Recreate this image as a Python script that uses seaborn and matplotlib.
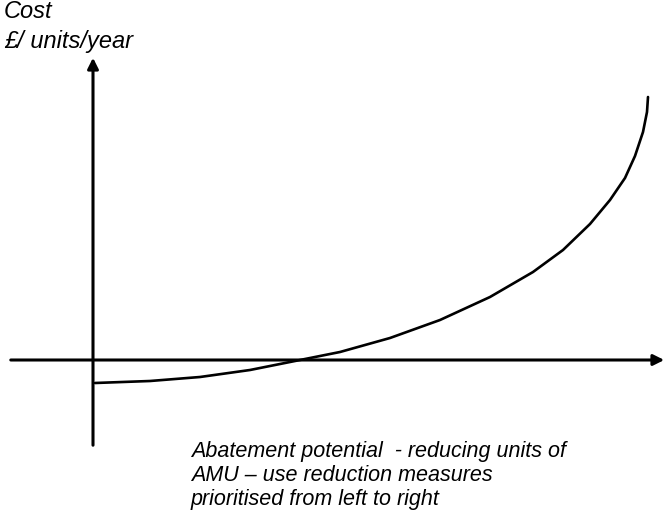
import matplotlib
matplotlib.use("Agg")
import matplotlib.pyplot as plt
import seaborn as sns
import pandas as pd

# Curva de coste marginal de abatimiento
potencial = [2, 57, 107, 157, 207, 247, 297, 347, 397, 440, 470, 497, 517, 532, 542, 550, 554, 555]
coste = [-23, -21, -17, -10, 0, 8, 22, 40, 63, 88, 110, 136, 160, 182, 204, 228, 248, 263]

# Extensión de los ejes dibujados
eje_x_min, eje_x_max = -85, 574
eje_y_min, eje_y_max = -88, 305

titulo_y = ["Cost", "£/ units/year"]
titulo_x = ["Abatement potential  - reducing units of",
            "AMU – use reduction measures",
            "prioritised from left to right"]

df = pd.DataFrame({"potencial": potencial, "coste": coste})

sns.set_style("white")
plt.rcParams["font.family"] = ["Liberation Sans", "DejaVu Sans"]

fig = plt.figure(figsize=(6.69, 5.12), dpi=100)
ax = fig.add_axes([0, 0, 1, 1])
ax.set_xlim(-93, 576)
ax.set_ylim(-152, 360)
ax.axis("off")

sns.lineplot(data=df, x="potencial", y="coste", color="black", linewidth=1.9,
             sort=False, estimator=None, ax=ax,
             solid_joinstyle="round", solid_capstyle="round")

# Flechas de los ejes
ax.annotate("", xy=(eje_x_max, 0), xytext=(eje_x_min, 0),
            arrowprops=dict(arrowstyle="-|>", color="black", lw=2.2, mutation_scale=16))
ax.annotate("", xy=(0, eje_y_max), xytext=(0, eje_y_min),
            arrowprops=dict(arrowstyle="-|>", color="black", lw=2.2, mutation_scale=16))

# Textos (posición en píxeles desde abajo, línea base)
for i, linea in enumerate(titulo_y):
    ax.text(4, 512 - 18 - i * 30, linea, transform=None, fontsize=17,
            style="italic", color="black", va="baseline", ha="left")
for i, linea in enumerate(titulo_x):
    ax.text(191, 512 - 457 - i * 24, linea, transform=None, fontsize=15.5,
            style="italic", color="black", va="baseline", ha="left")

plt.savefig("out.png", dpi=100)
plt.close()
